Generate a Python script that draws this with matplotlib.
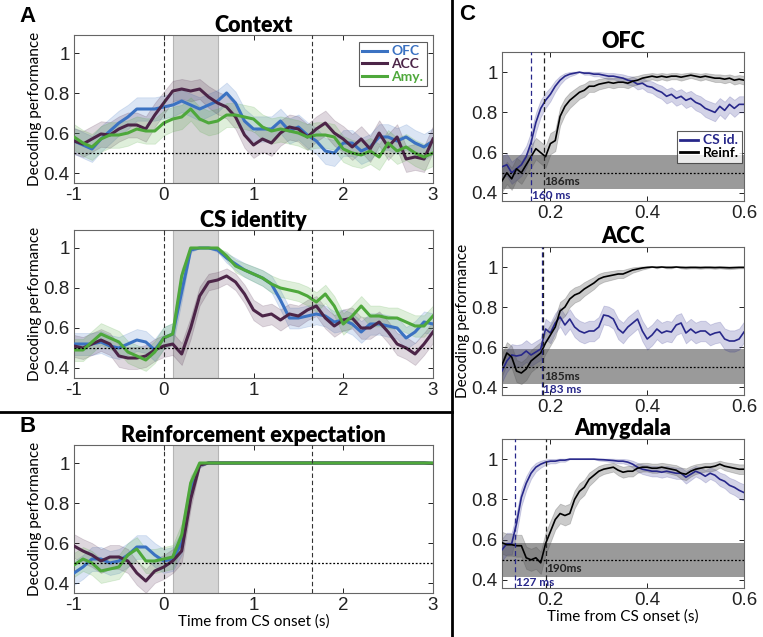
import numpy as np
import matplotlib
matplotlib.use('Agg')
import matplotlib.pyplot as plt
from matplotlib.lines import Line2D

''' DATA - panel A / B (time from -1 to 3 s, 0.1 s bins) '''
t_ab = np.round(np.arange(-1.0, 3.001, 0.1), 2)

ctx_ofc = [0.56, 0.54, 0.52, 0.57, 0.61, 0.65, 0.68, 0.72, 0.72, 0.72,
           0.73, 0.74, 0.76, 0.74, 0.72, 0.74, 0.76, 0.80, 0.75, 0.66,
           0.62, 0.62, 0.62, 0.66, 0.61, 0.63, 0.59, 0.56, 0.51, 0.50,
           0.55, 0.55, 0.51, 0.53, 0.58, 0.58, 0.56, 0.58, 0.55, 0.53, 0.56]
ctx_acc = [0.56, 0.545, 0.57, 0.595, 0.59, 0.62, 0.64, 0.64, 0.62, 0.69,
           0.75, 0.81, 0.82, 0.81, 0.82, 0.78, 0.75, 0.73, 0.68, 0.59,
           0.54, 0.57, 0.55, 0.60, 0.63, 0.62, 0.58, 0.62, 0.65, 0.60,
           0.57, 0.53, 0.57, 0.52, 0.60, 0.53, 0.58, 0.47, 0.48, 0.47, 0.57]
ctx_amy = [0.58, 0.55, 0.53, 0.57, 0.59, 0.59, 0.60, 0.62, 0.61, 0.61,
           0.65, 0.67, 0.68, 0.72, 0.67, 0.65, 0.66, 0.69, 0.69, 0.68,
           0.67, 0.63, 0.61, 0.62, 0.61, 0.60, 0.58, 0.59, 0.59, 0.58,
           0.52, 0.50, 0.49, 0.51, 0.48, 0.55, 0.51, 0.53, 0.50, 0.48, 0.50]

cs_ofc = [0.52, 0.52, 0.52, 0.53, 0.51, 0.50, 0.52, 0.54, 0.53, 0.49,
          0.55, 0.57, 0.78, 0.99, 1.0, 1.0, 0.99, 0.95, 0.92, 0.89,
          0.87, 0.85, 0.82, 0.74, 0.65, 0.65, 0.66, 0.67, 0.66, 0.63,
          0.64, 0.62, 0.58, 0.62, 0.62, 0.61, 0.60, 0.55, 0.58, 0.63, 0.62]
cs_acc = [0.51, 0.50, 0.52, 0.54, 0.52, 0.46, 0.45, 0.45, 0.46, 0.49,
          0.51, 0.52, 0.47, 0.60, 0.76, 0.83, 0.84, 0.86, 0.83, 0.77,
          0.69, 0.66, 0.67, 0.64, 0.67, 0.66, 0.69, 0.71, 0.65, 0.61,
          0.64, 0.65, 0.60, 0.60, 0.63, 0.58, 0.52, 0.50, 0.47, 0.52, 0.58]
cs_amy = [0.49, 0.49, 0.53, 0.57, 0.55, 0.53, 0.48, 0.46, 0.44, 0.48,
          0.55, 0.57, 0.86, 1.0, 1.0, 1.0, 1.0, 0.96, 0.91, 0.89,
          0.87, 0.85, 0.82, 0.80, 0.79, 0.78, 0.76, 0.73, 0.77, 0.71,
          0.62, 0.66, 0.71, 0.66, 0.66, 0.65, 0.65, 0.63, 0.61, 0.61, 0.66]

rf_ofc = [0.45, 0.48, 0.52, 0.52, 0.50, 0.51, 0.54, 0.58, 0.58, 0.54,
          0.51, 0.52, 0.60, 0.86, 0.99] + [1.0] * 25 + [0.998]
rf_acc = [0.585, 0.56, 0.54, 0.51, 0.53, 0.53, 0.51, 0.45, 0.41, 0.46,
          0.48, 0.51, 0.56, 0.82, 0.99] + [1.0] * 25 + [0.998]
rf_amy = [0.49, 0.52, 0.50, 0.46, 0.47, 0.48, 0.54, 0.57, 0.51, 0.51,
          0.52, 0.53, 0.64, 0.90, 1.0] + [1.0] * 25 + [1.0]

''' DATA - panel C (0.10 to 0.60 s, 10 ms bins) '''
t_c = np.round(np.arange(0.10, 0.6001, 0.01), 2)

ofc_csid = [0.53, 0.54, 0.50, 0.52, 0.54, 0.58, 0.65, 0.75, 0.82, 0.86,
            0.89, 0.93, 0.96, 0.98, 0.99, 0.995, 1.0, 0.995, 0.995, 0.99,
            0.99, 0.985, 0.98, 0.98, 0.975, 0.97, 0.96, 0.955, 0.94, 0.945,
            0.93, 0.925, 0.91, 0.90, 0.88, 0.89, 0.87, 0.88, 0.86, 0.87,
            0.85, 0.84, 0.82, 0.81, 0.80, 0.83, 0.81, 0.84, 0.82, 0.84, 0.84]
ofc_reinf = [0.46, 0.50, 0.47, 0.52, 0.50, 0.54, 0.58, 0.62, 0.60, 0.58,
             0.645, 0.66, 0.78, 0.83, 0.86, 0.88, 0.90, 0.91, 0.93, 0.93,
             0.94, 0.945, 0.95, 0.945, 0.95, 0.95, 0.945, 0.955, 0.96, 0.97,
             0.975, 0.98, 0.975, 0.98, 0.975, 0.98, 0.98, 0.975, 0.98, 0.985,
             0.98, 0.975, 0.98, 0.975, 0.97, 0.97, 0.965, 0.97, 0.96, 0.965, 0.96]
acc_csid = [0.48, 0.53, 0.56, 0.555, 0.56, 0.58, 0.56, 0.575, 0.59, 0.69,
            0.67, 0.72, 0.75, 0.71, 0.74, 0.70, 0.68, 0.67, 0.68, 0.68,
            0.70, 0.76, 0.755, 0.74, 0.69, 0.67, 0.70, 0.72, 0.74, 0.68,
            0.64, 0.66, 0.69, 0.67, 0.68, 0.675, 0.71, 0.72, 0.67, 0.69,
            0.67, 0.68, 0.68, 0.66, 0.67, 0.675, 0.64, 0.63, 0.63, 0.64, 0.675]
acc_reinf = [0.51, 0.57, 0.55, 0.48, 0.47, 0.49, 0.53, 0.55, 0.57, 0.62,
             0.66, 0.70, 0.78, 0.80, 0.84, 0.86, 0.87, 0.89, 0.905, 0.92,
             0.94, 0.95, 0.955, 0.96, 0.965, 0.965, 0.975, 0.985, 0.99, 0.995,
             0.998, 1.0, 0.998, 1.0, 0.998, 0.998, 1.0, 0.998, 0.997, 0.998,
             0.998, 0.997, 0.998, 0.998, 0.997, 0.998, 0.997, 0.996, 0.997, 0.998, 0.998]
amy_csid = [0.55, 0.58, 0.58, 0.68, 0.81, 0.88, 0.93, 0.96, 0.975, 0.985,
            0.99, 0.99, 0.995, 0.995, 1.0, 1.0, 1.0, 1.0, 1.0, 1.0,
            0.998, 0.997, 0.995, 0.993, 0.99, 0.99, 0.985, 0.975, 0.96, 0.95,
            0.945, 0.94, 0.94, 0.935, 0.94, 0.935, 0.93, 0.93, 0.91, 0.925,
            0.94, 0.93, 0.915, 0.93, 0.92, 0.90, 0.89, 0.87, 0.86, 0.845, 0.834]
amy_reinf = [0.585, 0.575, 0.575, 0.57, 0.57, 0.51, 0.50, 0.51, 0.485, 0.58,
             0.64, 0.70, 0.73, 0.72, 0.73, 0.80, 0.84, 0.86, 0.90, 0.92,
             0.94, 0.95, 0.955, 0.96, 0.945, 0.935, 0.94, 0.94, 0.955, 0.96,
             0.96, 0.955, 0.955, 0.96, 0.955, 0.95, 0.945, 0.93, 0.925, 0.94,
             0.95, 0.955, 0.96, 0.96, 0.965, 0.975, 0.965, 0.96, 0.955, 0.95, 0.95]

# onset latencies (s) and chance bands (lo, hi) for panel C
onset_csid = [0.160, 0.183, 0.127]
onset_reinf = [0.186, 0.185, 0.190]
chance_band = [(0.42, 0.59), (0.415, 0.59), (0.415, 0.585)]

# spread factor for the shaded error bands
k_ab = [0.13, 0.11, 0.12]
k_c = 0.11

regions = ['OFC', 'ACC', 'Amy.']
c_regions = ['#3b72c2', '#4c2548', '#4ea83b']
c_csid = '#27278a'
c_reinf = 'black'

''' FIGURE '''
TICKF = 'Liberation Sans'
HF = 'Lato'
plt.rcParams['font.family'] = TICKF
plt.rcParams['axes.linewidth'] = 0.8

fig = plt.figure(figsize=(7.63, 6.37), dpi=100)
W, H = 763.0, 637.0


def ax_px(l, t, r, b):
    return fig.add_axes([l / W, 1 - b / H, (r - l) / W, (b - t) / H])


def band(ax, x, y, k, col, alpha=0.18):
    y = np.array(y)
    s = k * np.sqrt(np.clip(y * (1 - y), 0, None))
    ax.fill_between(x, y - s, y + s, color=col, alpha=alpha, lw=0.6,
                    edgecolor=col, zorder=2)


def style(ax):
    ax.tick_params(direction='in', top=True, right=True, length=3.5,
                   width=0.7, labelsize=13.5, pad=3, colors='#222222')
    for sp in ax.spines.values():
        sp.set_color('#666666')


axA1 = ax_px(74, 35, 433, 183)
axA2 = ax_px(74, 230, 433, 378)
axB = ax_px(74, 445, 433, 593)

panels_ab = [(axA1, 'Context', [ctx_ofc, ctx_acc, ctx_amy], 0),
             (axA2, 'CS identity', [cs_ofc, cs_acc, cs_amy], 1),
             (axB, 'Reinforcement expectation', [rf_ofc, rf_acc, rf_amy], 2)]

DASH = (0, (4, 2.5))
for ax, title, series, i in panels_ab:
    ax.axvspan(0.1, 0.6, facecolor='#d5d5d5', edgecolor='#b5b5b5', lw=0.8, zorder=1)
    for y, col in zip(series, c_regions):
        band(ax, t_ab, y, k_ab[i], col)
    for y, col, lab in zip(series, c_regions, regions):
        ax.plot(t_ab, y, color=col, lw=2.2, label=lab, zorder=4)
    ax.axvline(0, color='#333333', ls=DASH, lw=0.8, zorder=5)
    ax.axvline(1.65, color='#333333', ls=DASH, lw=0.8, zorder=5)
    ax.axhline(0.5, color='black', ls=(0, (1.5, 1.5)), lw=0.9, zorder=5)
    ax.set_xlim(-1, 3)
    ax.set_ylim(0.35, 1.09)
    ax.set_xticks([-1, 0, 1, 2, 3])
    ax.set_xticklabels(['-1', '0', '1', '2', '3'])
    ax.set_yticks([0.4, 0.6, 0.8, 1.0])
    ax.set_yticklabels(['0.4', '0.6', '0.8', '1'])
    style(ax)
    ax.set_title(title, fontsize=15.5, fontweight='heavy', family=HF, pad=2)
    ax.set_ylabel('Decoding performance', fontsize=11, family=HF, labelpad=1)

leg = axA1.legend(loc='upper right', bbox_to_anchor=(0.983, 0.953), borderaxespad=0,
                  frameon=True, fancybox=False, edgecolor='#333333', handlelength=1.8,
                  handletextpad=0.3, labelspacing=0.05, borderpad=0.25,
                  prop={'family': HF, 'weight': 'bold', 'size': 10},
                  labelcolor='linecolor')
leg.get_frame().set_linewidth(0.8)

axB.set_xlabel('Time from CS onset (s)', fontsize=11, family=HF, labelpad=0)

axC1 = ax_px(502, 52, 744, 201)
axC2 = ax_px(502, 247, 744, 395)
axC3 = ax_px(502, 439, 744, 588)

panels_c = [(axC1, 'OFC', ofc_csid, ofc_reinf, 0),
            (axC2, 'ACC', acc_csid, acc_reinf, 1),
            (axC3, 'Amygdala', amy_csid, amy_reinf, 2)]

for ax, title, ycs, yrf, i in panels_c:
    lo, hi = chance_band[i]
    ax.axhspan(lo, hi, facecolor='#9a9a9a', edgecolor='none', zorder=1)
    band(ax, t_c, ycs, k_c, c_csid, alpha=0.2)
    band(ax, t_c, yrf, k_c, '#555555', alpha=0.3)
    ax.plot(t_c, ycs, color=c_csid, lw=1.2, label='CS id.', zorder=4)
    ax.plot(t_c, yrf, color=c_reinf, lw=1.2, label='Reinf.', zorder=4)
    ax.axhline(0.5, color='black', ls=(0, (1.5, 1.5)), lw=0.9, zorder=5)
    ax.axvline(onset_csid[i], color=c_csid, ls=DASH, lw=0.9, zorder=5)
    ax.axvline(onset_reinf[i], color='#222222', ls=DASH, lw=0.9, zorder=5)
    ax.text(onset_reinf[i] + 0.002, 0.455, '%dms' % round(onset_reinf[i] * 1000),
            color='#222222', fontsize=8.5, fontweight='bold', family=HF,
            va='center', ha='left', zorder=6)
    ax.text(onset_csid[i] + 0.002, 0.387, '%d ms' % round(onset_csid[i] * 1000),
            color=c_csid, fontsize=8.5, fontweight='bold', family=HF,
            va='center', ha='left', zorder=6)
    ax.set_xlim(0.1, 0.6)
    ax.set_ylim(0.36, 1.1)
    ax.set_xticks([0.2, 0.4, 0.6])
    ax.set_xticklabels(['0.2', '0.4', '0.6'])
    ax.set_yticks([0.4, 0.6, 0.8, 1.0])
    ax.set_yticklabels(['0.4', '0.6', '0.8', '1'])
    style(ax)
    ax.set_title(title, fontsize=15.5, fontweight='heavy', family=HF, pad=3)

legC = axC1.legend(loc='upper right', bbox_to_anchor=(0.992, 0.47), borderaxespad=0,
                   frameon=True, fancybox=False, edgecolor='#333333', handlelength=1.3,
                   handletextpad=0.3, labelspacing=0.05, borderpad=0.25,
                   prop={'family': HF, 'weight': 'bold', 'size': 10},
                   labelcolor='linecolor')
legC.get_frame().set_linewidth(0.8)
for ln in legC.get_lines():
    ln.set_linewidth(2)

axC2.set_ylabel('Decoding performance', fontsize=11, family=HF, labelpad=1)
axC3.set_xlabel('Time from CS onset (s)', fontsize=11, family=HF, labelpad=0)

# panel dividers
fig.add_artist(Line2D([452 / W, 452 / W], [0, 1], transform=fig.transFigure,
                      color='black', lw=2))
fig.add_artist(Line2D([0, 452 / W], [1 - 412 / H, 1 - 412 / H],
                      transform=fig.transFigure, color='black', lw=2))

# panel letters
fig.text(27 / W, 1 - 17 / H, 'A', fontsize=16, fontweight='bold', ha='center', va='center')
fig.text(28 / W, 1 - 427 / H, 'B', fontsize=16, fontweight='bold', ha='center', va='center')
fig.text(467 / W, 1 - 15 / H, 'C', fontsize=16, fontweight='bold', ha='center', va='center')

fig.savefig('out.png', dpi=100)
